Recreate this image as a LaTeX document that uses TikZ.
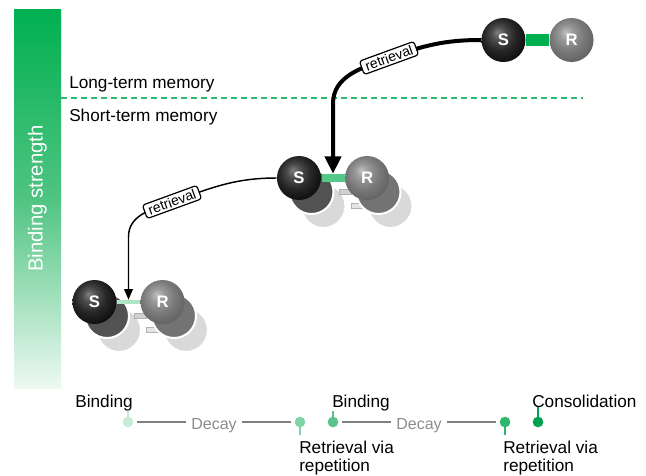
\documentclass[tikz,border=0pt]{standalone}
\usepackage{fontspec}
\setmainfont{Liberation Sans}
\usepackage{tikz}
\usetikzlibrary{arrows.meta,positioning,calc}

\definecolor{strengthgreen}{RGB}{0,176,80}
\definecolor{strengthmid}{RGB}{80,196,130}
\definecolor{strengthpale}{RGB}{238,249,242}
\definecolor{memgreen}{RGB}{40,190,110}
\definecolor{bondstrong}{RGB}{0,176,80}
\definecolor{bondmid}{RGB}{85,200,135}
\definecolor{bondweak}{RGB}{175,230,198}
\definecolor{stagepale}{RGB}{200,236,214}
\definecolor{stagelight}{RGB}{128,212,164}
\definecolor{stagemid}{RGB}{92,196,138}
\definecolor{stagedeep}{RGB}{46,182,108}
\definecolor{stagedark}{RGB}{0,160,80}
\definecolor{decaygray}{RGB}{128,128,128}

\pgfdeclareradialshading{sshade}{\pgfpoint{-7bp}{9bp}}{color(0bp)=(black!50); color(8bp)=(black!70); color(18bp)=(black!85); color(30bp)=(black!95); color(50bp)=(black)}
\pgfdeclareradialshading{rshade}{\pgfpoint{-7bp}{9bp}}{color(0bp)=(black!25); color(8bp)=(black!40); color(18bp)=(black!52); color(30bp)=(black!62); color(50bp)=(black!70)}

\begin{document}
\begin{tikzpicture}[
    x=0.75pt, y=-0.75pt,
    sball/.style={circle, minimum size=33pt, inner sep=0pt, shade, shading=sshade, text=white, font=\fontsize{12.5}{14}\selectfont\bfseries},
    rball/.style={sball, shading=rshade},
    bond/.style={rectangle, inner sep=0pt, minimum width=17.25pt},
    ghost/.style={draw=white, line width=1.5pt},
    retrieve/.style={draw, fill=white, rounded corners=2pt, line width=0.9pt, rotate=20, inner xsep=3pt, inner ysep=1.5pt, font=\fontsize{10.5}{12}\selectfont},
    memtext/.style={anchor=base west, inner sep=0pt, font=\fontsize{12.9}{15}\selectfont},
    stage/.style={circle, inner sep=0pt, minimum size=8pt, outer sep=3pt},
    stagelabel/.style={inner sep=0pt, align=left, font=\fontsize{12.9}{13.5}\selectfont},
    tick/.style={line width=1.1pt},
    decay/.style={text=black!45, inner sep=4pt, font=\fontsize{12}{14}\selectfont},
    decayline/.style={decaygray, line width=1.1pt}
]
\useasboundingbox (0,0) rectangle (646,475);

% Binding strength bar
\node[rectangle, inner sep=0pt, minimum width=35.25pt, minimum height=284.25pt, top color=strengthgreen, bottom color=strengthpale, middle color=strengthmid] (sbar) at (37.5,198.5) {};
\node[rotate=90, text=white, font=\fontsize{15.2}{18}\selectfont] (strengthtext) at (sbar.center) {Binding strength};

% Memory border
\coordinate (memend) at (583,98);
\draw[memgreen, line width=1.1pt, dash pattern=on 4.5pt off 3pt] (memend -| sbar.east) -- (memend);
\node[memtext] (longterm) at (69,88) {Long-term memory};
\node[memtext] (shortterm) at (69,121) {Short-term memory};

% Strong pair (top)
\node[bond, fill=bondstrong, minimum height=9pt] (bond3) at (537.5,40) {};
\node[sball, left=0pt of bond3] (S3) {S};
\node[rball, right=0pt of bond3] (R3) {R};

% Middle pair with fading copies
\coordinate (mid) at (333,178);
\foreach \dx/\dy/\sc/\rc/\bc in {24/28/black!15/black!15/black!10, 12/14/black!68/black!55/black!18} {
  \filldraw[ghost, fill=\sc] ($(mid)+({\dx-33.5},\dy)$) circle (16.5pt);
  \filldraw[ghost, fill=\rc] ($(mid)+({\dx+33.5},\dy)$) circle (16.5pt);
  \filldraw[fill=\bc, draw=black!30, line width=0.4pt] ($(mid)+({\dx-6},{\dy-3})$) rectangle ($(mid)+({\dx+6},{\dy+2})$);
}
\node[bond, fill=bondmid, minimum height=6pt] (bond2) at (mid) {};
\node[sball, left=0pt of bond2] (S2) {S};
\node[rball, right=0pt of bond2] (R2) {R};

% Weak pair (bottom) with fading copies
\coordinate (low) at (128.5,302);
\foreach \dx/\dy/\sc/\rc/\bc in {24/28/black!15/black!15/black!10, 12/14/black!68/black!55/black!18} {
  \filldraw[ghost, fill=\sc] ($(low)+({\dx-33.5},\dy)$) circle (16.5pt);
  \filldraw[ghost, fill=\rc] ($(low)+({\dx+33.5},\dy)$) circle (16.5pt);
  \filldraw[fill=\bc, draw=black!30, line width=0.4pt] ($(low)+({\dx-6},{\dy-3})$) rectangle ($(low)+({\dx+6},{\dy+2})$);
}
\node[bond, fill=bondweak, minimum height=3pt] (bond1) at (low) {};
\node[sball, left=0pt of bond1] (S1) {S};
\node[rball, right=0pt of bond1] (R1) {R};

% Retrieval arrows
\coordinate (via2) at (389,58);
\coordinate (bend2) at ($(bond2.north)+(0,-70)$);
\draw[line width=3pt, -{Triangle[width=12pt,length=13pt]}] (S3.west) to[out=180, in=20] (via2) to[out=200, in=90] (bend2) -- (bond2.north);
\node[retrieve] (ret2) at (via2) {retrieval};

\coordinate (via1) at (172,202);
\coordinate (bend1) at ($(bond1.north)+(0,-63)$);
\draw[line width=1.1pt, -{Triangle[width=6.5pt,length=8pt]}] (S2.west) to[out=180, in=20] (via1) to[out=200, in=90] (bend1) -- (bond1.north);
\node[retrieve] (ret1) at (via1) {retrieval};

% Timeline
\foreach \n/\x/\c in {1/128/stagepale, 2/300/stagelight, 3/333/stagemid, 4/505/stagedeep, 5/538/stagedark}
  \node[stage, fill=\c] (d\n) at (\x,422) {};

\node[decay] (decay1) at ($(d1)!0.5!(d2)+(0,4)$) {Decay};
\draw[decayline] (d1) -- (decay1.west |- d1);
\draw[decayline] (decay1.east |- d2) -- (d2);
\node[decay] (decay2) at ($(d3)!0.5!(d4)+(0,4)$) {Decay};
\draw[decayline] (d3) -- (decay2.west |- d3);
\draw[decayline] (decay2.east |- d4) -- (d4);

% Timeline labels
\node[stagelabel, anchor=base east] (bind1) at ($(d1)+(5,-15)$) {Binding};
\node[stagelabel, anchor=base west] (bind2) at ($(d3)+(-1,-15)$) {Binding};
\node[stagelabel, anchor=base west] (consol) at ($(d5)+(-6,-15)$) {Consolidation};
\node[stagelabel, anchor=north west] (rep1) at ($(d2)+(-1,19)$) {Retrieval via\\repetition};
\node[stagelabel, anchor=north west] (rep2) at ($(d4)+(-2,19)$) {Retrieval via\\repetition};

\draw[tick, stagepale] (d1.center) -- (d1 |- bind1.south);
\draw[tick, stagelight, shorten >=4.5pt] (d2.center) -- (d2 |- rep1.north);
\draw[tick, stagemid] (d3.center) -- (d3 |- bind2.south);
\draw[tick, stagedeep, shorten >=4.5pt] (d4.center) -- (d4 |- rep2.north);
\draw[tick, stagedark] (d5.center) -- (d5 |- consol.south);
\end{tikzpicture}
\end{document}
